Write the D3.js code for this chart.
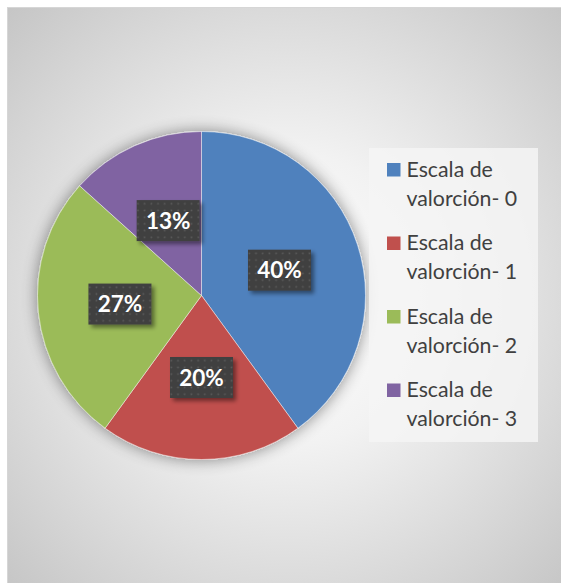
<!DOCTYPE html>
<html>
<head>
<meta charset="utf-8">
<script src="https://cdn.jsdelivr.net/npm/d3@7"></script>
<style>
  html, body { margin: 0; padding: 0; background: #fff; }
  svg { display: block; }
</style>
</head>
<body>
<div id="chart"></div>
<script>
// data
const categories = ['Escala de valorción- 0', 'Escala de valorción- 1', 'Escala de valorción- 2', 'Escala de valorción- 3'];
const values = [6, 3, 4, 2];
const colors = ['#4F81BD', '#C0504D', '#9BBB59', '#8064A2'];

const width = 561, height = 583;
const cx = 201.5, cy = 295.5, radius = 164;

const svg = d3.select('#chart').append('svg')
  .attr('width', width)
  .attr('height', height);

const defs = svg.append('defs');

// background gradient
const bg = defs.append('radialGradient')
  .attr('id', 'bg')
  .attr('cx', '0.5').attr('cy', '0.5').attr('r', '0.72');
bg.append('stop').attr('offset', '0%').attr('stop-color', '#ffffff');
bg.append('stop').attr('offset', '35%').attr('stop-color', '#f2f2f2');
bg.append('stop').attr('offset', '100%').attr('stop-color', '#c4c4c4');

// soft halo round the pie
const halo = defs.append('filter').attr('id', 'halo')
  .attr('x', '-20%').attr('y', '-20%').attr('width', '140%').attr('height', '140%');
halo.append('feGaussianBlur').attr('in', 'SourceAlpha').attr('stdDeviation', 8).attr('result', 'b');
halo.append('feComponentTransfer').attr('in', 'b').attr('result', 'c')
  .append('feFuncA').attr('type', 'linear').attr('slope', 0.45);
const hm = halo.append('feMerge');
hm.append('feMergeNode').attr('in', 'c');
hm.append('feMergeNode').attr('in', 'SourceGraphic');

// label box shadow
const sh = defs.append('filter').attr('id', 'boxShadow')
  .attr('x', '-20%').attr('y', '-20%').attr('width', '150%').attr('height', '150%');
sh.append('feGaussianBlur').attr('in', 'SourceAlpha').attr('stdDeviation', 2).attr('result', 'b');
sh.append('feOffset').attr('in', 'b').attr('dx', 3).attr('dy', 3).attr('result', 'o');
sh.append('feComponentTransfer').attr('in', 'o').attr('result', 'c')
  .append('feFuncA').attr('type', 'linear').attr('slope', 0.45);
const sm = sh.append('feMerge');
sm.append('feMergeNode').attr('in', 'c');
sm.append('feMergeNode').attr('in', 'SourceGraphic');

// dotted fill of the label boxes
const pat = defs.append('pattern').attr('id', 'dots')
  .attr('width', 6.7).attr('height', 6.7)
  .attr('patternUnits', 'userSpaceOnUse');
pat.append('rect').attr('width', 6.7).attr('height', 6.7).attr('fill', '#404040');
pat.append('rect').attr('x', 2.5).attr('y', 2.5).attr('width', 1.6).attr('height', 1.6).attr('fill', '#5c5c5c');

// chart area
svg.append('rect')
  .attr('x', 7.5).attr('y', 7.5)
  .attr('width', width).attr('height', height)
  .attr('fill', 'url(#bg)')
  .attr('stroke', '#d6d6d6');

// pie
const pie = d3.pie().sort(null).value(d => d);
const arcs = pie(values);
const arc = d3.arc().innerRadius(0).outerRadius(radius);
const labelArc = d3.arc().innerRadius(radius * 0.5).outerRadius(radius * 0.5);
const total = d3.sum(values);

const g = svg.append('g').attr('transform', `translate(${cx},${cy})`);

g.append('g').attr('filter', 'url(#halo)')
  .selectAll('path')
  .data(arcs)
  .join('path')
  .attr('d', arc)
  .attr('fill', (d, i) => colors[i])
  .attr('stroke', 'rgba(255,255,255,0.6)')
  .attr('stroke-width', 0.8);

// data labels
const bw = 63, bh = 41;
const labels = g.append('g').selectAll('g')
  .data(arcs)
  .join('g')
  .attr('transform', d => {
    const [x, y] = labelArc.centroid(d);
    return `translate(${x},${y})`;
  });

labels.append('rect')
  .attr('x', -bw / 2).attr('y', -bh / 2)
  .attr('width', bw).attr('height', bh)
  .attr('fill', 'url(#dots)')
  .attr('filter', 'url(#boxShadow)');

labels.append('text')
  .attr('text-anchor', 'middle')
  .attr('dy', '0.36em')
  .attr('fill', '#fff')
  .style('font-family', 'Lato, "Open Sans", sans-serif')
  .style('font-weight', 'bold')
  .style('font-size', '22.5px')
  .text(d => Math.round(d.data / total * 100) + '%');

// legend
const legend = svg.append('g');
legend.append('rect')
  .attr('x', 369).attr('y', 148)
  .attr('width', 169).attr('height', 294)
  .attr('fill', '#f5f5f5').attr('fill-opacity', 0.85);

const step = 73.5;
const items = legend.selectAll('g.item')
  .data(categories)
  .join('g')
  .attr('class', 'item')
  .attr('transform', (d, i) => `translate(387,${163 + i * step})`);

items.append('rect')
  .attr('width', 13.5).attr('height', 13.5)
  .attr('fill', (d, i) => colors[i]);

const txt = items.append('text')
  .attr('fill', '#404040')
  .style('font-family', 'Lato, "Open Sans", sans-serif')
  .style('font-size', '21.3px');

txt.append('tspan').attr('x', 19.5).attr('y', 13.9)
  .text(d => d.split(' ').slice(0, 2).join(' '));
txt.append('tspan').attr('x', 19.5).attr('y', 42.9)
  .text(d => d.split(' ').slice(2).join(' '));
</script>
</body>
</html>
